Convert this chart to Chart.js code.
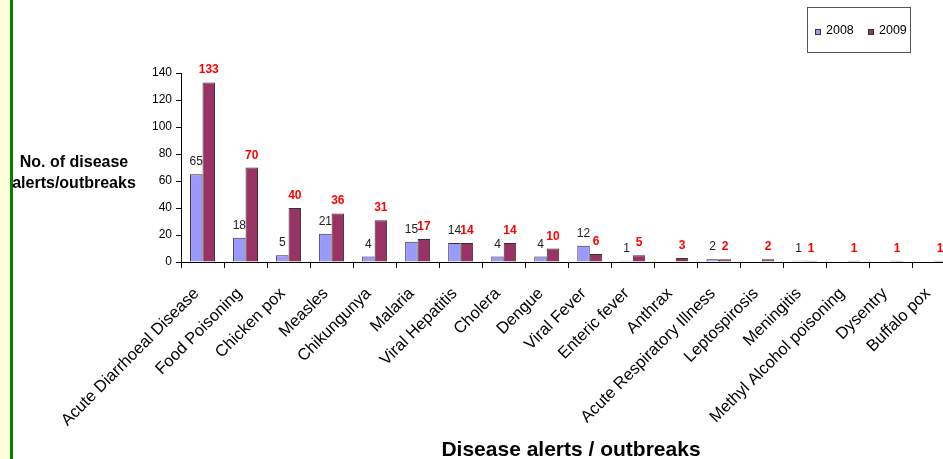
<!DOCTYPE html>
<html>
<head>
<meta charset="utf-8">
<script src="https://cdn.jsdelivr.net/npm/chart.js@4/dist/chart.umd.min.js"></script>
<style>
  html, body { margin: 0; padding: 0; overflow: hidden; background: #fff; }
  #wrap {
    position: relative; width: 964px; height: 459px;
    background: linear-gradient(to right, #ffffd9 0, #ffffd9 10px, #008000 10px, #008000 13px, #fff 13px);
  }
  #chartAlertas { position: absolute; left: 0; top: 0; }
</style>
</head>
<body>
<div id="wrap">
  <canvas id="chartAlertas" width="964" height="459"></canvas>
</div>
<script>
// ====== Datos ======
const diseases = [
  "Acute Diarrhoeal Disease", "Food Poisoning", "Chicken pox", "Measles",
  "Chikungunya", "Malaria", "Viral Hepatitis", "Cholera", "Dengue",
  "Viral Fever", "Enteric fever", "Anthrax", "Acute Respiratory Illness",
  "Leptospirosis", "Meningitis", "Methyl Alcohol poisoning", "Dysentry", "Buffalo pox"
];
const alerts2008 = [65, 18, 5, 21, 4, 15, 14, 4, 4, 12, 1, 0, 2, 0, 1, 0, 0, 0];
const alerts2009 = [133, 70, 40, 36, 31, 17, 14, 14, 10, 6, 5, 3, 2, 2, 1, 1, 1, 1];
const yTicks = [0, 20, 40, 60, 80, 100, 120, 140];

const FONT = "'Liberation Sans', Arial, sans-serif";

// ====== Etiquetas, títulos y leyenda ======
const extras = {
  id: "extras",
  afterDatasetsDraw(chart) {
    const ctx = chart.ctx;
    ctx.save();
    // valores sobre las barras
    chart.data.datasets.forEach((ds, i) => {
      const meta = chart.getDatasetMeta(i);
      meta.data.forEach((bar, j) => {
        const v = ds.data[j];
        if (!v) return;
        ctx.textAlign = "center";
        ctx.textBaseline = "alphabetic";
        if (i === 0) {
          ctx.font = "12px " + FONT;
          ctx.fillStyle = "#222";
        } else {
          ctx.font = "bold 12px " + FONT;
          ctx.fillStyle = "#ff0000";
        }
        ctx.fillText(String(v), bar.x, bar.y - 9);
      });
    });
    // título del eje Y (horizontal)
    ctx.font = "bold 16px " + FONT;
    ctx.fillStyle = "#000";
    ctx.textAlign = "center";
    ctx.fillText("No. of disease", 74, 167);
    ctx.fillText("alerts/outbreaks", 74, 188);
    // título del eje X
    ctx.font = "bold 21px " + FONT;
    ctx.fillText("Disease alerts / outbreaks", 571, 456);
    // leyenda
    ctx.strokeStyle = "#555";
    ctx.lineWidth = 1;
    ctx.strokeRect(807.5, 7.5, 103, 45);
    ctx.font = "12.5px " + FONT;
    ctx.textAlign = "left";
    ctx.textBaseline = "middle";
    chart.data.datasets.forEach((ds, i) => {
      const x = 815 + i * 53;
      ctx.fillStyle = ds.backgroundColor;
      ctx.fillRect(x, 29, 6, 6);
      ctx.strokeStyle = "#333";
      ctx.strokeRect(x + 0.5, 29.5, 5, 5);
      ctx.fillStyle = "#000";
      ctx.fillText(ds.label, x + 11, 31);
    });
    ctx.restore();
  }
};

const ctx = document.getElementById("chartAlertas").getContext("2d");
new Chart(ctx, {
  type: "bar",
  data: {
    labels: diseases,
    datasets: [
      { label: "2008", data: alerts2008, backgroundColor: "#9999ff", borderColor: "#333", borderWidth: 1 },
      { label: "2009", data: alerts2009, backgroundColor: "#993366", borderColor: "#333", borderWidth: 1 }
    ]
  },
  options: {
    responsive: false,
    animation: false,
    devicePixelRatio: 1,
    layout: { padding: { top: 73, right: 1, left: 0, bottom: 0 } },
    datasets: { bar: { categoryPercentage: 0.58, barPercentage: 1 } },
    plugins: { legend: { display: false }, tooltip: { enabled: false } },
    scales: {
      x: {
        grid: { display: true, drawOnChartArea: false, tickLength: 6, color: "#000" },
        border: { display: true, color: "#000" },
        ticks: { color: "#000", font: { family: FONT, size: 16.5 }, minRotation: 45, maxRotation: 45, autoSkip: false, padding: 16, labelOffset: -6 },
        afterFit: (s) => { s.height = 197; }
      },
      y: {
        min: 0, max: 140,
        afterBuildTicks: (s) => { s.ticks = yTicks.map(v => ({ value: v })); },
        grid: { display: true, drawOnChartArea: false, tickLength: 5, color: "#000" },
        border: { display: true, color: "#000" },
        ticks: { color: "#000", font: { family: FONT, size: 12 }, padding: 4 },
        afterFit: (s) => { s.width = 181; }
      }
    }
  },
  plugins: [extras]
});
</script>
</body>
</html>
